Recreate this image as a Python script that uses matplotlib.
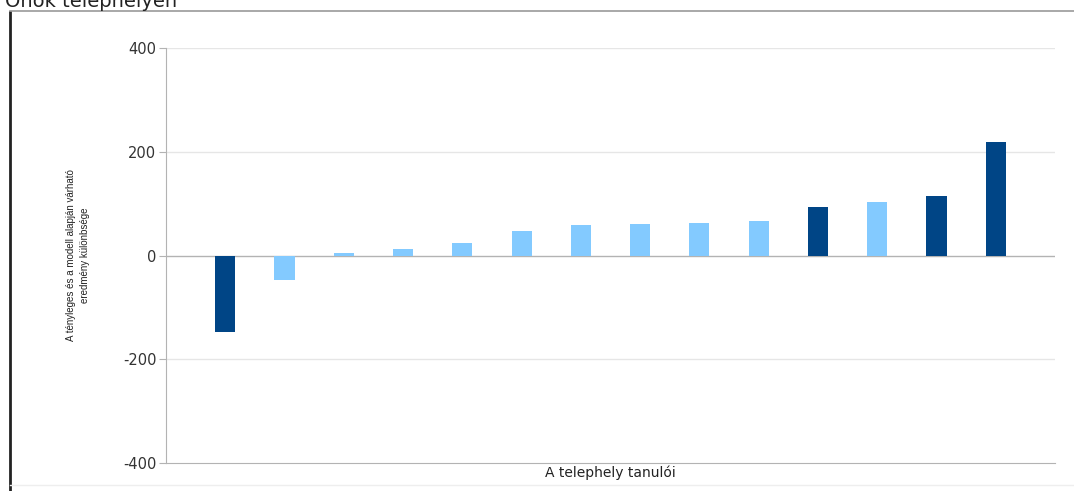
import numpy as np
import matplotlib.pyplot as plt
from matplotlib.lines import Line2D

plt.rcParams['font.family'] = ['DejaVu Sans']

# Adatok
tanulok = list(range(1, 15))
kulonbseg = [-148, -48, 4, 13, 24, 47, 58, 60, 62, 66, 93, 104, 114, 218]
sotet = [True, False, False, False, False, False, False, False, False, False,
         True, False, True, True]
y_ticks = [-400, -200, 0, 200, 400]

szin_sotet = '#004586'
szin_vilagos = '#83caff'
szinek = [szin_sotet if s else szin_vilagos for s in sotet]

fig = plt.figure(figsize=(10.74, 4.91), dpi=100)
ax = fig.add_axes([166 / 1074, 1 - 463 / 491, (1055 - 166) / 1074, (463 - 48) / 491])

ax.bar(tanulok, kulonbseg, width=0.34, color=szinek, zorder=3)

ax.set_xlim(0, 15)
ax.set_ylim(-400, 400)
ax.set_yticks(y_ticks)
ax.set_yticklabels([str(v) for v in y_ticks], fontsize=10.5, color='#333333')
ax.set_xticks([])
ax.tick_params(axis='y', length=5, color='#b3b3b3', pad=2)

# Rácsvonalak és tengelyek
for v in y_ticks:
    if v == 0:
        ax.axhline(v, color='#b3b3b3', linewidth=1, zorder=2)
    elif v != -400:
        ax.axhline(v, color='#e6e6e6', linewidth=1, zorder=1)
for s in ['top', 'right']:
    ax.spines[s].set_visible(False)
ax.spines['left'].set_color('#b3b3b3')
ax.spines['bottom'].set_color('#b3b3b3')

ax.set_xlabel('A telephely tanulói', fontsize=10, color='#222222', labelpad=2)
fig.text(78 / 1074, 1 - 255 / 491,
         'A tényleges és a modell alapján várható\neredmény különbsége',
         rotation=90, ha='center', va='center', fontsize=7, color='#222222',
         family='Liberation Sans', linespacing=1.5)

# Cím (felül levágva) és keret
fig.text(5 / 1074, 1 - 7 / 491, 'Önök telephelyén', fontsize=14,
         color='#222222', va='baseline', ha='left')
fig.add_artist(Line2D([10 / 1074, 10 / 1074], [0, 1 - 12 / 491],
                      transform=fig.transFigure, color='#222222', linewidth=2))
fig.add_artist(Line2D([10 / 1074, 1], [1 - 11 / 491, 1 - 11 / 491],
                      transform=fig.transFigure, color='#999999', linewidth=1.2))
fig.add_artist(Line2D([10 / 1074, 1], [1 - 485 / 491, 1 - 485 / 491],
                      transform=fig.transFigure, color='#eeeeee', linewidth=1))

fig.savefig('out.png', dpi=100)
